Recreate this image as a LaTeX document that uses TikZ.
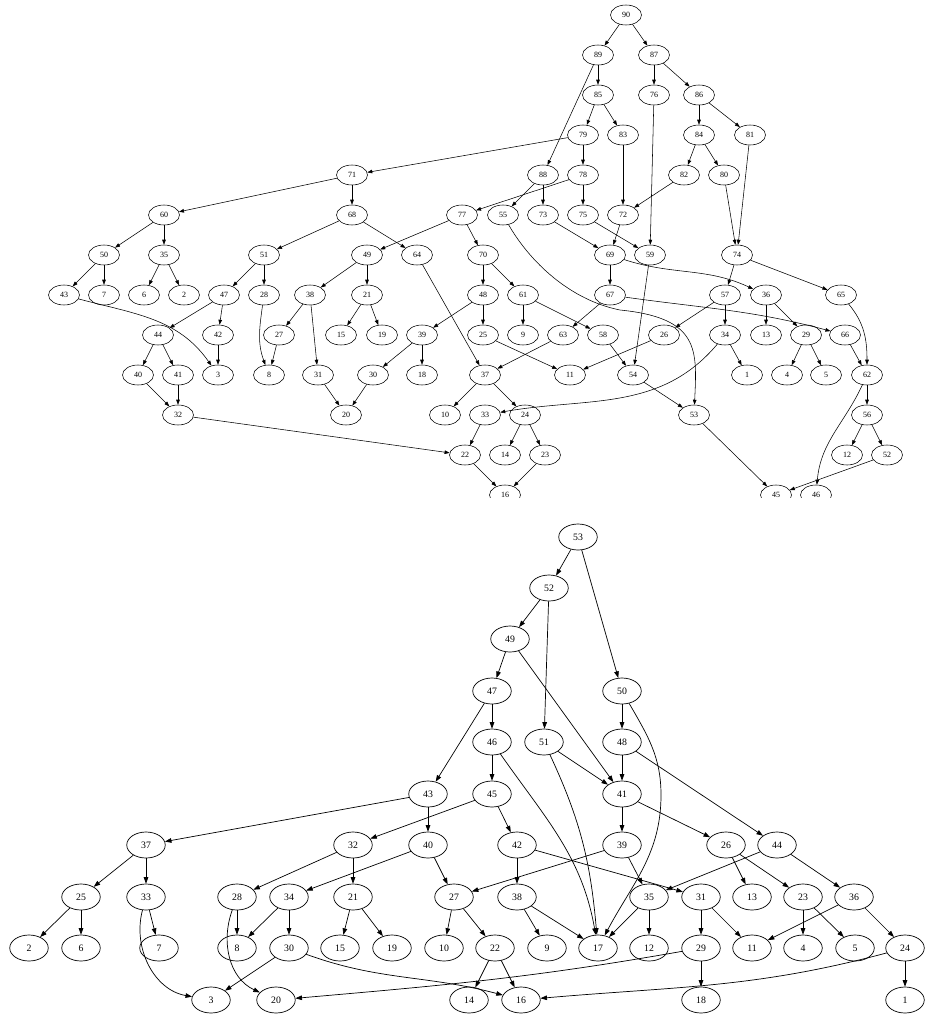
\documentclass[tikz,border=0pt]{standalone}
\usepackage{fontspec}
\setmainfont{Liberation Serif}
\usetikzlibrary{shapes.geometric,arrows.meta}
\begin{document}
\begin{tikzpicture}[x=1pt,y=-1pt,
  tn/.style={ellipse,draw,line width=0.55pt,minimum width=31pt,minimum height=20pt,inner sep=0pt,font=\fontsize{8}{9}\selectfont},
  bn/.style={ellipse,draw,line width=0.7pt,minimum width=38.5pt,minimum height=26pt,inner sep=0pt,font=\fontsize{9.8}{11}\selectfont},
  ta/.style={draw,line width=0.55pt,-{Triangle[length=5pt,width=3.6pt]}},
  ba/.style={draw,line width=0.7pt,-{Triangle[length=6.5pt,width=4.6pt]}}]
\useasboundingbox[fill=white] (0,0) rectangle (924,1017);
% ---------------- top graph ----------------
\begin{scope}
\clip (0,0) rectangle (924,497);
\foreach \n/\x/\y in {90/626/15,
 89/598/55, 87/654/55,
 85/598/95, 76/654/95, 86/699/95,
 79/583/135, 83/623/135, 84/699/135, 81/750/135,
 71/352/175, 88/543/175, 78/583/175, 82/684/175, 80/724/175,
 60/164/215, 68/352/215, 77/462/215, 55/503/215, 73/543/215, 75/583/215, 72/623/215,
 50/104/255, 35/164/255, 51/264/255, 49/367/255, 64/417/255, 70/483/255, 69/610/255, 59/650/255, 74/737/255,
 43/64/295, 7/104/295, 6/144/295, 2/184/295, 47/224/295, 28/264/295, 38/310/295, 21/367/295, 48/483/295, 61/523/295, 67/610/295, 57/725/295, 36/766/295, 65/841/295,
 44/158/335, 42/218/335, 27/279/335, 15/341/335, 19/382/335, 39/422/335, 25/483/335, 9/523/335, 63/563/335, 58/603/335, 26/664/335, 34/725/335, 13/766/335, 29/806/335, 66/845/335,
 40/138/375, 41/178/375, 3/218/375, 8/269/375, 31/318/375, 30/373/375, 18/422/375, 37/485/375, 11/570/375, 54/633/375, 1/747/375, 4/787/375, 5/826/375, 62/867/375,
 32/178/415, 20/346/415, 10/445/415, 33/485/415, 24/525/415, 53/694/415, 56/867/415,
 22/465/455, 14/505/455, 23/545/455, 12/847/455, 52/887/455,
 16/505/495, 45/776/495, 46/816/495}
  \node[tn] (t\n) at (\x,\y) {\n};
\foreach \a/\b in {90/89,90/87,89/85,89/88,87/76,87/86,85/79,85/83,86/84,86/81,
 79/71,79/78,84/82,84/80,83/72,82/72,76/59,80/74,81/74,88/55,88/73,78/77,78/75,
 71/60,71/68,60/50,60/35,68/51,68/64,77/49,77/70,73/69,75/59,72/69,69/67,59/54,
 74/57,74/65,50/43,50/7,35/6,35/2,51/47,51/28,49/38,49/21,64/37,70/48,70/61,
 67/63,57/26,57/34,36/13,36/29,47/44,47/42,38/27,38/31,21/15,21/19,48/39,48/25,
 61/9,61/58,63/37,58/54,26/11,34/1,29/4,29/5,66/62,44/40,44/41,42/3,27/8,39/30,
 39/18,25/11,37/10,37/24,54/53,62/56,40/32,41/32,31/20,30/20,33/22,24/14,24/23,
 53/45,56/12,56/52,32/22,22/16,23/16,52/45}
  \draw[ta] (t\a) -- (t\b);
\draw[ta] (t55) .. controls (530,262) and (570,300) .. (620,310) .. controls (700,318) and (697,350) .. (t53);
\draw[ta] (t69) to[out=-18,in=155] (t36);
\draw[ta] (t67) to[out=-8,in=165] (t66);
\draw[ta] (t43) to[out=-15,in=125] (t3);
\draw[ta] (t28) to[out=-98,in=110] (t8);
\draw[ta] (t65) to[out=-50,in=90] (t62);
\draw[ta] (t62) to[out=-115,in=85] (t46);
\draw[ta] (t34) to[out=-130,in=10] (t33);
\end{scope}
% ---------------- bottom graph ----------------
\foreach \n/\x/\y in {53/578/537,
 52/549/588,
 49/510/639,
 47/492/691, 50/622/691,
 46/492/742, 51/544/742, 48/622/742,
 43/428/794, 45/492/794, 41/622/794,
 37/146/845, 32/353/845, 40/428/845, 42/517/845, 39/622/845, 26/726/845, 44/777/845,
 25/81/897, 33/146/897, 28/237/897, 34/289/897, 21/353/897, 27/454/897, 38/517/897, 35/649/897, 31/701/897, 13/752/897, 23/803/897, 36/854/897,
 2/29/948, 6/81/948, 7/159/948, 8/237/948, 30/289/948, 15/340/948, 19/392/948, 10/444/948, 22/495/948, 9/547/948, 17/598/948, 12/649/948, 29/701/948, 11/752/948, 4/803/948, 5/855/948, 24/905/948,
 3/211/1000, 20/276/1000, 14/469/1000, 16/521/1000, 18/701/1000, 1/905/1000}
  \node[bn] (b\n) at (\x,\y) {\n};
\foreach \a/\b in {53/52,53/50,52/49,52/51,49/47,49/41,47/46,47/43,50/48,46/45,
 51/41,48/41,48/44,43/37,43/40,45/32,45/42,41/39,41/26,37/25,37/33,32/28,32/21,
 40/34,40/27,42/38,42/31,39/27,39/35,26/13,26/23,44/35,44/36,25/2,25/6,33/7,
 28/8,34/8,34/30,21/15,21/19,27/10,27/22,38/9,38/17,35/17,35/12,31/29,31/11,
 23/4,23/5,36/11,36/24,30/3,22/14,22/16,29/18,24/1}
  \draw[ba] (b\a) -- (b\b);
\coordinate (w50) at (661,795);
\draw[ba] (b50) to[out=-60,in=90] (w50) to[out=-90,in=62] (b17);
\draw[ba] (b46) to[out=-55,in=100] (b17);
\draw[ba] (b51) to[out=-65,in=95] (b17);
\draw[ba] (b33) to[out=-105,in=170] (b3);
\draw[ba] (b28) to[out=-110,in=155] (b20);
\draw[ba] (b30) to[out=-20,in=165] (b16);
\draw[ba] (b29) to[out=-170,in=5] (b20);
\draw[ba] (b24) to[out=-165,in=5] (b16);
\end{tikzpicture}
\end{document}
